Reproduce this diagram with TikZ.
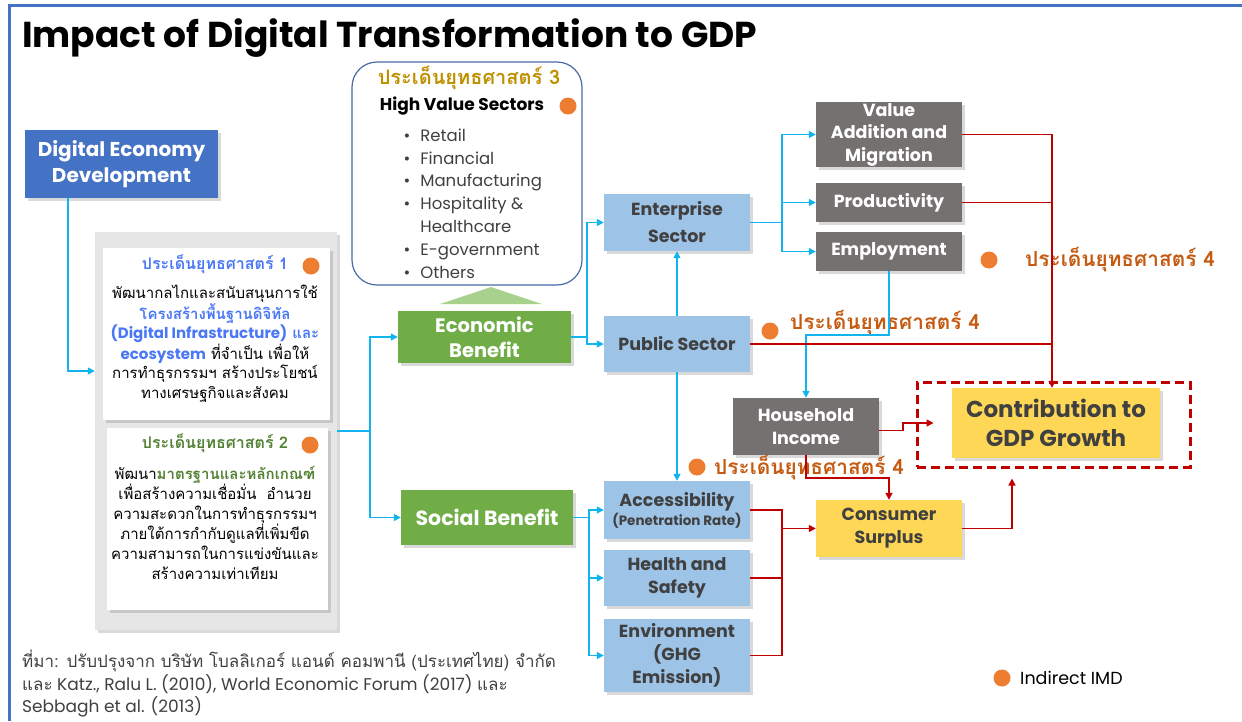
\documentclass[tikz,border=0pt]{standalone}
\usepackage{fontspec}
\setmainfont{Poppins}
\newfontfamily\thaifont[Script=Thai]{Loma}
\usetikzlibrary{arrows.meta,shadows}

\definecolor{frameblue}{HTML}{4472C4}
\definecolor{flowblue}{HTML}{12B4F0}
\definecolor{leafgreen}{HTML}{70AD47}
\definecolor{palegreen}{HTML}{A9D18E}
\definecolor{skyblue}{HTML}{9DC3E6}
\definecolor{stonegray}{HTML}{767171}
\definecolor{sunyellow}{HTML}{FFD757}
\definecolor{flowred}{HTML}{C00000}
\definecolor{dotorange}{HTML}{ED7D31}
\definecolor{rustorange}{HTML}{C55A11}
\definecolor{goldtext}{HTML}{BF9000}
\definecolor{brightblue}{HTML}{4A78F5}
\definecolor{mossgreen}{HTML}{548235}
\definecolor{panelgray}{HTML}{E7E6E6}
\definecolor{inkgray}{HTML}{404040}
\definecolor{edgeblue}{HTML}{4A6AA5}

\tikzset{
	box/.style={inner sep=0pt, align=center,
		drop shadow={shadow xshift=2.5pt, shadow yshift=-2.5pt, opacity=.3}},
	dedbox/.style={box, fill=frameblue, text=white,
		font=\bfseries\fontsize{20}{26}\selectfont},
	benefit/.style={box, fill=leafgreen, text=white,
		font=\bfseries\fontsize{19.5}{25}\selectfont},
	sector/.style={box, fill=skyblue, text=inkgray, minimum width=146pt,
		font=\bfseries\fontsize{17.5}{23}\selectfont},
	factor/.style={box, fill=stonegray, text=white, minimum width=146pt,
		font=\bfseries\fontsize{17.5}{22.5}\selectfont},
	outcome/.style={box, fill=sunyellow, text=inkgray,
		font=\bfseries\fontsize{17.5}{23}\selectfont},
	note/.style={box, fill=white},
	bline/.style={draw=flowblue, line width=1.5pt, -{Triangle[length=7pt,width=7pt]}},
	rline/.style={draw=flowred, line width=1.5pt, -{Triangle[length=7pt,width=7pt]}},
	rjoin/.style={draw=flowred, line width=1.5pt},
	dot/.style={circle, fill=dotorange, minimum size=17pt, inner sep=0pt},
	issue/.style={anchor=west, inner sep=0pt, text=rustorange,
		font=\thaifont\bfseries\fontsize{20.8}{24}\selectfont},
}

\begin{document}
\begin{tikzpicture}[x=1pt,y=-1pt]
	\useasboundingbox (0,0) rectangle (1242,721);
	% Slide frame and title
	\draw[frameblue, line width=3pt] (9,721) -- (9,5.5) -- (1242,5.5);
	\node[anchor=base west, inner sep=0pt, font=\bfseries\fontsize{36}{40}\selectfont]
		(title) at (22,47) {Impact of Digital Transformation to GDP};

	% Left column
	\node[dedbox, minimum width=193pt, minimum height=68pt] (ded) at (121.5,164)
		{Digital Economy\\Development};
	\node[box, fill=panelgray, minimum width=242pt, minimum height=398pt] (panel) at (216,431) {};
	\node[note, minimum width=227pt, minimum height=172pt] (plan1) at (216.5,334) {};
	\node[note, minimum width=221pt, minimum height=182pt] (plan2) at (217.5,519) {};

	\node[text=brightblue, font=\thaifont\bfseries\fontsize{16}{18}\selectfont] (head1) at (215,264)
		{ประเด็นยุทธศาสตร์ 1};
	\node[dot] (dot1) at (311,266) {};
	\node[align=center, font=\thaifont\fontsize{15}{19.4}\selectfont] (body1) at (215,343.5)
		{พัฒนากลไกและสนับสนุนการใช้\\
		{\bfseries\color{brightblue}โครงสร้างพื้นฐานดิจิทัล}\\
		{\bfseries\color{brightblue}{\rmfamily\fontsize{15}{19.4}\selectfont(Digital Infrastructure)} และ}\\
		{\bfseries\color{brightblue}\rmfamily\fontsize{15}{19.4}\selectfont ecosystem} ที่จำเป็น เพื่อให้\\
		การทำธุรกรรมฯ สร้างประโยชน์\\
		ทางเศรษฐกิจและสังคม};

	\node[text=mossgreen, font=\thaifont\bfseries\fontsize{16}{18}\selectfont] (head2) at (215,443)
		{ประเด็นยุทธศาสตร์ 2};
	\node[dot] (dot2) at (310,445) {};
	\node[align=center, font=\thaifont\fontsize{15}{20}\selectfont] (body2) at (215,522.5)
		{พัฒนา{\bfseries\color{mossgreen}มาตรฐานและหลักเกณฑ์}\\
		เพื่อสร้างความเชื่อมั่น\ \ อำนวย\\
		ความสะดวกในการทำธุรกรรมฯ\\
		ภายใต้การกำกับดูแลที่เพิ่มขีด\\
		ความสามารถในการแข่งขันและ\\
		สร้างความเท่าเทียม};

	% High value sectors
	\node[draw=edgeblue, line width=1.2pt, rounded corners=25pt, minimum width=230pt,
		minimum height=223pt] (sectors) at (467,173.5) {};
	\node[text=goldtext, font=\thaifont\bfseries\fontsize{20}{22}\selectfont] (head3) at (469,78)
		{ประเด็นยุทธศาสตร์ 3};
	\node[font=\bfseries\fontsize{17}{18}\selectfont] (hvs) at (462,106) {High Value Sectors};
	\node[dot] (dot3) at (568,106) {};
	\node[anchor=west, align=left, text=inkgray, font=\fontsize{16.5}{22.8}\selectfont] (hvslist) at (400,203.5)
		{\textbullet\hspace{10pt}Retail\\
		\textbullet\hspace{10pt}Financial\\
		\textbullet\hspace{10pt}Manufacturing\\
		\textbullet\hspace{10pt}Hospitality \&\\
		\phantom{\textbullet}\hspace{10pt}Healthcare\\
		\textbullet\hspace{10pt}E-government\\
		\textbullet\hspace{10pt}Others};
	\fill[palegreen] (440,304) -- (542,304) -- (491,287) -- cycle;

	% Benefits and sectors
	\node[benefit, minimum width=173pt, minimum height=52pt] (econ) at (484.5,337) {Economic\\Benefit};
	\node[benefit, minimum width=172pt, minimum height=55pt, font=\bfseries\fontsize{20.5}{25}\selectfont]
		(social) at (487,517.5) {Social Benefit};
	\node[sector, minimum height=57pt, font=\bfseries\fontsize{17.5}{27}\selectfont] (ent) at (677,222.5)
		{Enterprise\\Sector};
	\node[sector, minimum height=56pt] (pub) at (677,344) {Public Sector};
	\node[sector, minimum height=58pt] (acc) at (677,510)
		{Accessibility\\[-4pt]{\fontsize{13.5}{15}\selectfont(Penetration Rate)}};
	\node[sector, minimum height=56pt] (hs) at (677,578) {Health and\\Safety};
	\node[sector, minimum height=73pt] (env) at (677,655.5) {Environment\\(GHG\\Emission)};

	% Effects
	\node[factor, minimum height=65pt] (vam) at (889,134.5) {Value\\Addition and\\Migration};
	\node[factor, minimum height=39pt] (prod) at (889,202.5) {Productivity};
	\node[factor, minimum height=39pt] (empl) at (889,251.5) {Employment};
	\node[factor, minimum height=57pt] (hh) at (806,426.5) {Household\\Income};
	\node[outcome, minimum width=146pt, minimum height=57pt] (cs) at (889,528.5) {Consumer\\Surplus};
	\node[draw=flowred, line width=3pt, dash pattern=on 9pt off 5pt, inner sep=0pt,
		minimum width=273pt, minimum height=85pt] (goal) at (1053.5,424.5) {};
	\node[outcome, minimum width=208pt, minimum height=70pt, font=\bfseries\fontsize{23}{29}\selectfont]
		(gdp) at (1056,423) {Contribution to\\GDP Growth};

	% Strategy 4 tags
	\node[dot] (dot4) at (989,260) {};
	\node[issue] (tag4) at (1025,260) {ประเด็นยุทธศาสตร์ 4};
	\node[dot] (dot5) at (770,331) {};
	\node[issue] (tag5) at (790,323) {ประเด็นยุทธศาสตร์ 4};
	\node[dot] (dot6) at (697,467) {};
	\node[issue] (tag6) at (714,468) {ประเด็นยุทธศาสตร์ 4};

	% Blue links
	\draw[bline] ([xshift=43pt]ded.south west) |- ([yshift=60pt]panel.west);
	\draw[bline] (panel.east) -- ++(33,0) |- (econ.west);
	\draw[bline] (panel.east) ++(33,0) |- (social.west);
	\draw[bline] (econ.east) -- ++(16,0) |- (ent.west);
	\draw[bline] (econ.east) ++(16,0) |- (pub.west);
	\draw[bline] (pub.north) -- (ent.south);
	\draw[bline] (ent.east) -- ++(32,0) |- (vam.west);
	\draw[bline] (ent.east) ++(32,0) |- (prod.west);
	\draw[bline] (ent.east) ++(32,0) |- (empl.west);
	\draw[bline] (empl.south) -- ++(0,64) -| (hh.north);
	\draw[bline] (pub.south) -- (acc.north);
	\draw[bline] (social.east) -- ++(16,0) |- (acc.west);
	\draw[bline] (social.east) ++(16,0) |- (hs.west);
	\draw[bline] (social.east) ++(16,0) |- (env.west);

	% Red links
	\draw[rline] (vam.east) -| ([xshift=-4pt]gdp.north);
	\draw[rjoin] (prod.east) -- ++(90,0);
	\draw[rjoin] (pub.east) -- ++(302,0);
	\draw[rline] ([yshift=-4pt]hh.east) -- ++(24,0) |- ([xshift=18pt,yshift=1.5pt]goal.west);
	\draw[rline] (hh.south) -- ++(0,23) -| (cs.north);
	\draw[rjoin] (acc.east) -- ++(32,0) |- (env.east);
	\draw[rjoin] (hs.east) -- ++(32,0);
	\draw[rline] ([xshift=32pt]acc.east) |- (cs.west);
	\draw[rline, shorten >=10pt] (cs.east) -| ([xshift=-41.5pt]goal.south);

	% Legend and source
	\node[dot] (dotkey) at (1002,678) {};
	\node[anchor=west, inner sep=0pt, font=\fontsize{17.5}{20}\selectfont] (key) at (1020,678) {Indirect IMD};
	\node[anchor=north west, align=left, inner sep=0pt, text=inkgray, font=\fontsize{17}{22.5}\selectfont]
		(source) at (22,650)
		{{\thaifont ที่มา: ปรับปรุงจาก บริษัท โบลลิเกอร์ แอนด์ คอมพานี (ประเทศไทย) จำกัด}\\
		{\thaifont และ} Katz., Ralu L. (2010), World Economic Forum (2017) {\thaifont และ}\\
		Sebbagh et al. (2013)};
\end{tikzpicture}
\end{document}
